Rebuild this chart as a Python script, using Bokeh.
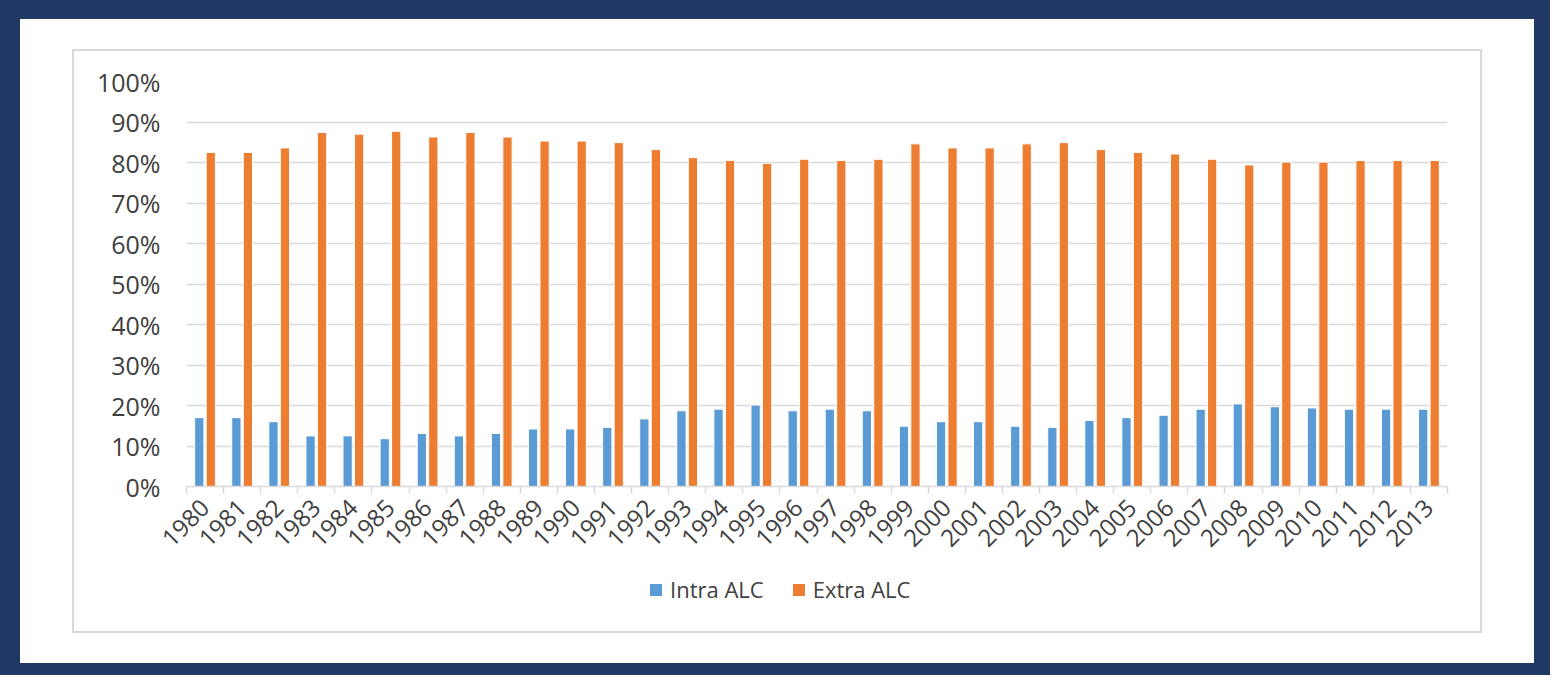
import math
from bokeh.plotting import figure
from bokeh.models import (ColumnDataSource, Range1d, FixedTicker, PrintfTickFormatter,
                          Legend, LegendItem, Spacer)
from bokeh.transform import dodge
from bokeh.layouts import column, row
from bokeh.embed import file_html
from bokeh.resources import INLINE

years = [str(y) for y in range(1980, 2014)]
intra_alc = [17.0, 17.0, 16.0, 12.5, 12.5, 11.8, 13.1, 12.5, 13.1, 14.2,
             14.2, 14.6, 16.7, 18.7, 19.1, 20.1, 18.7, 19.1, 18.7, 14.9,
             16.0, 16.0, 14.9, 14.6, 16.3, 17.0, 17.6, 19.1, 20.4, 19.7,
             19.4, 19.1, 19.1, 19.1]
extra_alc = [82.5, 82.5, 83.6, 87.4, 87.0, 87.7, 86.3, 87.4, 86.3, 85.3,
             85.3, 84.9, 83.2, 81.2, 80.5, 79.8, 80.8, 80.5, 80.8, 84.6,
             83.6, 83.6, 84.6, 84.9, 83.2, 82.5, 82.1, 80.8, 79.4, 80.1,
             80.1, 80.5, 80.5, 80.5]
series_names = ["Intra ALC", "Extra ALC"]
y_ticks = [0, 10, 20, 30, 40, 50, 60, 70, 80, 90, 100]

BLUE = "#5b9bd5"
ORANGE = "#ed7d31"
GRID = "#d9d9d9"
NAVY = "#1f3864"
TEXT = "#404040"
FONT = "Open Sans"

idx = list(range(len(years)))
src = ColumnDataSource(dict(idx=idx, year=years, intra=intra_alc, extra=extra_alc))

PW = 1406
p = figure(width=PW, height=520,
           x_range=Range1d(-0.5, len(years) - 0.5), y_range=Range1d(0, 100),
           output_backend="svg", toolbar_location=None,
           min_border_left=112, min_border_right=33,
           min_border_top=30, min_border_bottom=85)
p.outline_line_color = None
p.background_fill_color = "white"
p.border_fill_color = "white"

p.vbar(x=dodge("idx", -0.155), top="intra", width=0.25, source=src,
       fill_color=BLUE, line_color="white", line_width=1)
p.vbar(x=dodge("idx", 0.155), top="extra", width=0.25, source=src,
       fill_color=ORANGE, line_color="white", line_width=1)

# x axis
xa = p.xaxis[0]
xa.ticker = FixedTicker(ticks=idx, minor_ticks=[i - 0.5 for i in range(len(years) + 1)])
xa.major_label_overrides = {i: y for i, y in zip(idx, years)}
xa.major_label_orientation = math.pi / 4
xa.major_tick_line_color = None
xa.major_tick_out = 0
xa.major_tick_in = 0
xa.minor_tick_line_color = GRID
xa.minor_tick_line_width = 1.5
xa.minor_tick_out = 7
xa.minor_tick_in = 0
xa.axis_line_color = GRID
xa.axis_line_width = 1.5
xa.major_label_text_font = FONT
xa.major_label_text_font_size = "24px"
xa.major_label_text_color = TEXT
xa.major_label_standoff = 10

# y axis
ya = p.yaxis[0]
ya.ticker = FixedTicker(ticks=y_ticks)
ya.formatter = PrintfTickFormatter(format="%d%%")
ya.axis_line_color = None
ya.major_tick_line_color = None
ya.minor_tick_line_color = None
ya.major_tick_out = 0
ya.major_tick_in = 0
ya.major_label_text_font = FONT
ya.major_label_text_font_size = "25px"
ya.major_label_text_color = TEXT
ya.major_label_standoff = 26

p.xgrid.grid_line_color = None
p.ygrid.grid_line_color = GRID
p.ygrid.grid_line_width = 1.5

# legend strip (separate figure below the chart, inside the same chart box);
# its ranges keep the shared data out of view so only the legend is drawn
lg = figure(width=PW, height=60, x_range=Range1d(1000, 1001), y_range=Range1d(1000, 1001),
            output_backend="svg", toolbar_location=None,
            x_axis_location=None, y_axis_location=None,
            min_border_left=112, min_border_right=33, min_border_top=0, min_border_bottom=0)
lg.outline_line_color = None
lg.xgrid.visible = False
lg.ygrid.visible = False
lg.border_fill_color = "white"
l1 = lg.quad(left="idx", right="idx", bottom="intra", top="intra", source=src,
             fill_color=BLUE, line_color=None)
l2 = lg.quad(left="idx", right="idx", bottom="extra", top="extra", source=src,
             fill_color=ORANGE, line_color=None)
legend = Legend(items=[LegendItem(label=series_names[0], renderers=[l1]),
                       LegendItem(label=series_names[1], renderers=[l2])],
                orientation="horizontal", location=(462, 27),
                border_line_color=None, background_fill_alpha=0,
                glyph_width=15, glyph_height=15, label_standoff=7,
                spacing=27, padding=0, margin=0,
                label_text_font=FONT, label_text_font_size="22px",
                label_text_color=TEXT)
lg.add_layout(legend, "center")


def block(w, h, color=None):
    st = {"background-color": color} if color else {}
    return Spacer(width=w, height=h, styles=st)


W, H = 1550, 675
NL, NT, NR, NB = 20, 19, 16, 12
GW, GH = 1410, 584
BT = 2

gray_box = column(
    block(GW, BT, GRID),
    row(block(BT, GH - 2 * BT, GRID), column(p, lg), block(BT, GH - 2 * BT, GRID)),
    block(GW, BT, GRID),
)
inner_w = W - NL - NR
inner_h = H - NT - NB
pad_l = 52
pad_t = 30
white = column(
    block(inner_w, pad_t),
    row(block(pad_l, GH), gray_box, block(inner_w - pad_l - GW, GH)),
    block(inner_w, inner_h - pad_t - GH),
)
layout = column(
    block(W, NT, NAVY),
    row(block(NL, inner_h, NAVY), white, block(NR, inner_h, NAVY)),
    block(W, NB, NAVY),
)

open("out.html", "w").write(file_html(layout, INLINE))
